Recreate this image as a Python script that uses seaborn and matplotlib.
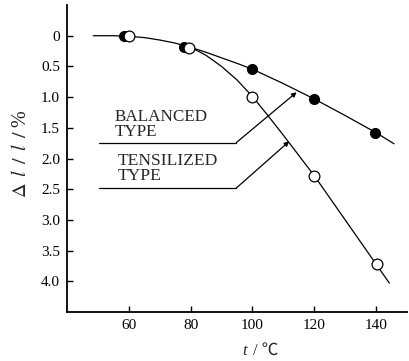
import matplotlib
matplotlib.use("Agg")
import matplotlib.pyplot as plt
import seaborn as sns
import pandas as pd

# measured points
bal_t = [58.4, 78.0, 100, 120, 139.7]
bal_d = [0.0, 0.19, 0.545, 1.03, 1.58]
ten_t = [60, 79.5, 100, 120, 140.3]
ten_d = [0.0, 0.2, 0.99, 2.28, 3.72]

# fitted curves
bal_curve_t = [48.5, 55, 60, 65, 70, 75, 80, 85, 90, 95, 100, 110, 120, 130, 140, 145.8]
bal_curve_d = [0.0, 0.0, 0.01, 0.03, 0.07, 0.12, 0.19, 0.27, 0.36, 0.45, 0.545, 0.78, 1.03, 1.3, 1.58, 1.76]
ten_curve_t = [80, 82, 85, 90, 95, 100, 105, 110, 115, 120, 130, 140, 144.3]
ten_curve_d = [0.2, 0.24, 0.32, 0.5, 0.72, 0.99, 1.3, 1.62, 1.95, 2.28, 3.0, 3.72, 4.03]

xticks = [60, 80, 100, 120, 140]
yticks = [0, 0.5, 1.0, 1.5, 2.0, 2.5, 3.0, 3.5, 4.0]
ytick_labels = ["0", "0.5", "1.0", "1.5", "2.0", "2.5", "3.0", "3.5", "4.0"]

sns.set_style("ticks")
plt.rcParams["font.family"] = ["Liberation Serif", "Noto Sans CJK SC", "DejaVu Serif"]
plt.rcParams["mathtext.fontset"] = "stix"

fig = plt.figure(figsize=(4.09, 3.61), dpi=100)
ax = fig.add_axes([0.1638, 0.1357, 0.8313, 0.8504])

lw = 0.9
sns.lineplot(x=bal_curve_t, y=bal_curve_d, ax=ax, color="black", lw=lw, sort=False, estimator=None)
sns.lineplot(x=ten_curve_t, y=ten_curve_d, ax=ax, color="black", lw=lw, sort=False, estimator=None)

sns.scatterplot(x=bal_t, y=bal_d, ax=ax, s=50, color="black", edgecolor="black", linewidth=0.9, zorder=3)
sns.scatterplot(x=ten_t, y=ten_d, ax=ax, s=60, color="white", edgecolor="black", linewidth=0.9, zorder=4)

ax.set_xlim(40, 150)
ax.set_ylim(4.5, -0.5)
ax.set_xticks(xticks)
ax.set_xticklabels([str(v) for v in xticks])
ax.set_yticks(yticks)
ax.set_yticklabels(ytick_labels)
ax.tick_params(direction="in", length=4, width=1, labelsize=11, pad=5, colors="black")

for s in ["top", "right"]:
    ax.spines[s].set_visible(False)
for s in ["left", "bottom"]:
    ax.spines[s].set_linewidth(1.3)
    ax.spines[s].set_color("black")

# annotations with leader lines
ax.plot([50.2, 94.8], [1.74, 1.74], color="black", lw=lw)
ax.annotate("", xy=(114.3, 0.92), xytext=(94.8, 1.74),
            arrowprops=dict(arrowstyle="-|>", color="black", lw=lw, mutation_scale=7, shrinkA=0, shrinkB=0))
ax.plot([50.2, 94.8], [2.48, 2.48], color="black", lw=lw)
ax.annotate("", xy=(111.9, 1.72), xytext=(94.8, 2.48),
            arrowprops=dict(arrowstyle="-|>", color="black", lw=lw, mutation_scale=7, shrinkA=0, shrinkB=0))

ax.text(55.4, 1.70, "BALANCED\nTYPE", fontsize=12.3, ha="left", va="bottom", linespacing=0.95)
ax.text(56.4, 2.42, "TENSILIZED\nTYPE", fontsize=12.6, ha="left", va="bottom", linespacing=0.95)

# x label: italic t, then / ℃
fig.text(245 / 409, 1 - 351 / 361, "t", fontsize=12, style="italic", ha="center", va="center")
fig.text(253 / 409, 1 - 351 / 361, "/ ℃", fontsize=12, ha="left", va="center",
         family=["Liberation Serif", "Noto Sans CJK SC", "DejaVu Serif"])

ax.set_ylabel(r"$\Delta\,\,\,l\,\,\,/\,\,\,l\,\,\,/\,\,$%", fontsize=14.5)
ax.yaxis.set_label_coords(-0.105, 0.515)

fig.savefig("out.png", dpi=100)
